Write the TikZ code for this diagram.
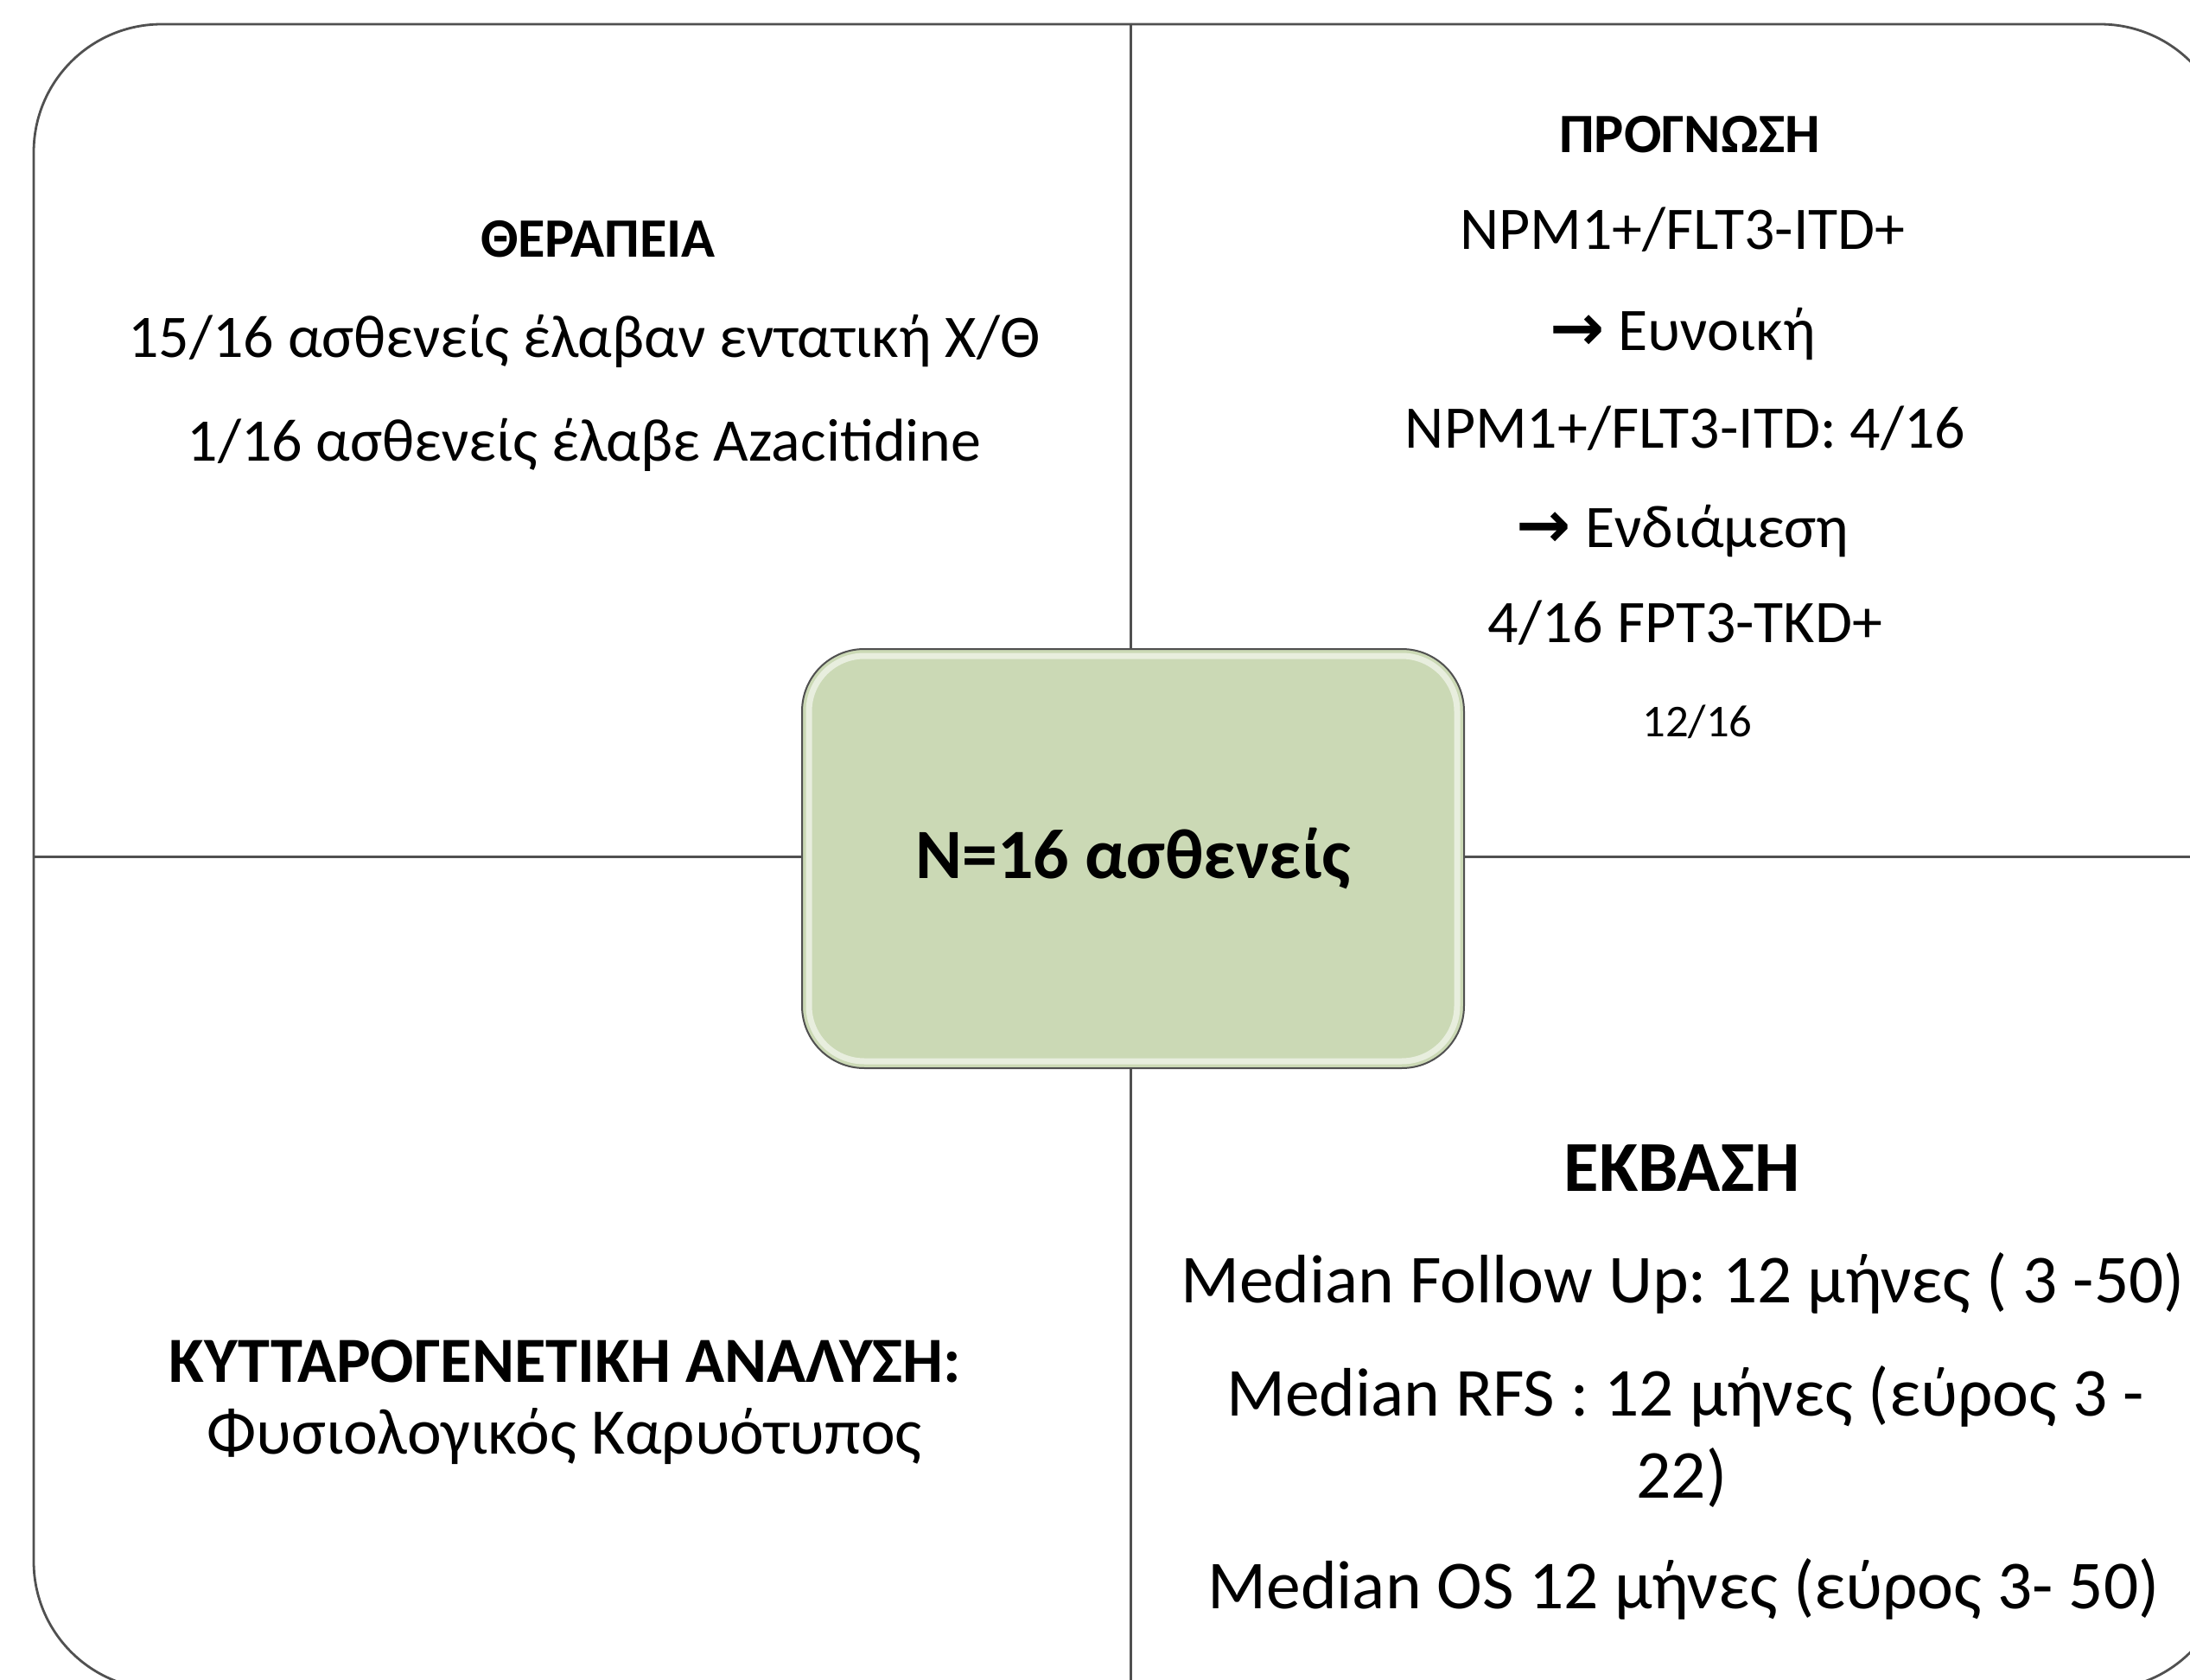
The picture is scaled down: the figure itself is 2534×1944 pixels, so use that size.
\documentclass[tikz,border=0pt]{standalone}
\usepackage{fontspec}
\setmainfont{Carlito}
\newfontfamily\arrowfont{DejaVu Sans}
\usetikzlibrary{positioning}
\frenchspacing

\definecolor{boxgreen}{RGB}{203,217,181}
\definecolor{rulegray}{RGB}{80,80,80}

\tikzset{
  frame/.style={draw=rulegray, line width=0.28mm, rounded corners=14.8mm,
    minimum width=253.9mm, minimum height=192.7mm, inner sep=0pt},
  quadline/.style={draw=rulegray, line width=0.28mm},
  total/.style={draw=rulegray, fill=boxgreen, line width=0.2mm, rounded corners=7.2mm,
    minimum width=76.6mm, minimum height=48.5mm, inner sep=0pt,
    font=\fontsize{23.3}{28}\selectfont\bfseries},
  bevel/.style={draw=white!55!boxgreen, line width=0.7mm, rounded corners=6.4mm},
  txt/.style={anchor=base, inner sep=0pt, font=\fontsize{19.9}{24}\selectfont},
  head/.style={txt, font=\fontsize{18.3}{22}\selectfont\bfseries},
  midtxt/.style={txt, font=\fontsize{21.4}{26}\selectfont},
  midhead/.style={txt, font=\fontsize{21.2}{26}\selectfont\bfseries},
  bigtxt/.style={txt, font=\fontsize{22.6}{27}\selectfont},
  bighead/.style={txt, font=\fontsize{23.6}{28}\selectfont\bfseries},
  smalltxt/.style={txt, font=\fontsize{15}{18}\selectfont}
}
\newcommand{\toarrow}{{\arrowfont\bfseries\fontsize{21.5}{24}\selectfont →}}

\begin{document}
\begin{tikzpicture}[x=0.1mm,y=-0.1mm]
  \useasboundingbox[fill=white] (0,0) rectangle (2534,1944);

  % outer frame and the two dividers
  \node[frame] (frame) at (1308.5,991.5) {};
  \draw[quadline] (frame.north) -- (frame.south);
  \draw[quadline] (frame.west) -- (frame.east);

  % centre box
  \node[total] (total) at (1311,993.5) {};
  \draw[bevel] ([shift={(0.9mm,-0.9mm)}]total.north west)
    rectangle ([shift={(-0.9mm,0.9mm)}]total.south east);
  \node[total, draw=none, fill=none] (totaltxt) at (total) {N=16 ασθενείς};

  % top left
  \node[head] (th0) at (692,298) {ΘΕΡΑΠΕΙΑ};
  \node[txt]  (th1) at (676,413) {15/16 ασθενείς έλαβαν εντατική Χ/Θ};
  \node[txt]  (th2) at (676,533) {1/16 ασθενείς έλαβε Azacitidine};

  % top right
  \node[head] (pr0) at (1955,177) {ΠΡΟΓΝΩΣΗ};
  \node[txt]  (pr1) at (1947,289) {NPM1+/FLT3-ITD+};
  \node[txt]  (pr2) at (1947,405) {\toarrow{} Ευνοική};
  \node[txt]  (pr3) at (1950,518) {NPM1+/FLT3-ITD: 4/16};
  \node[txt]  (pr4) at (1947,633) {\toarrow{} Ενδιάμεση};
  \node[txt]  (pr5) at (1950,743) {4/16 FPT3-TKD+};
  \node[smalltxt] (pr6) at (1964,852) {12/16};

  % bottom left
  \node[midhead] (ky0) at (654,1599) {ΚΥΤΤΑΡΟΓΕΝΕΤΙΚΗ ΑΝΑΛΥΣΗ:};
  \node[midtxt]  (ky1) at (653,1682) {Φυσιολογικός Καρυότυπος};

  % bottom right
  \node[bighead] (ek0) at (1946,1378) {ΕΚΒΑΣΗ};
  \node[bigtxt]  (ek1) at (1947,1507) {Median Follow Up: 12 μήνες ( 3 -50)};
  \node[bigtxt]  (ek2) at (1950,1638) {Median RFS : 12 μήνες (εύρος 3 -};
  \node[bigtxt]  (ek3) at (1946,1733) {22)};
  \node[bigtxt]  (ek4) at (1948,1861) {Median OS 12 μήνες (εύρος 3- 50)};
\end{tikzpicture}
\end{document}
